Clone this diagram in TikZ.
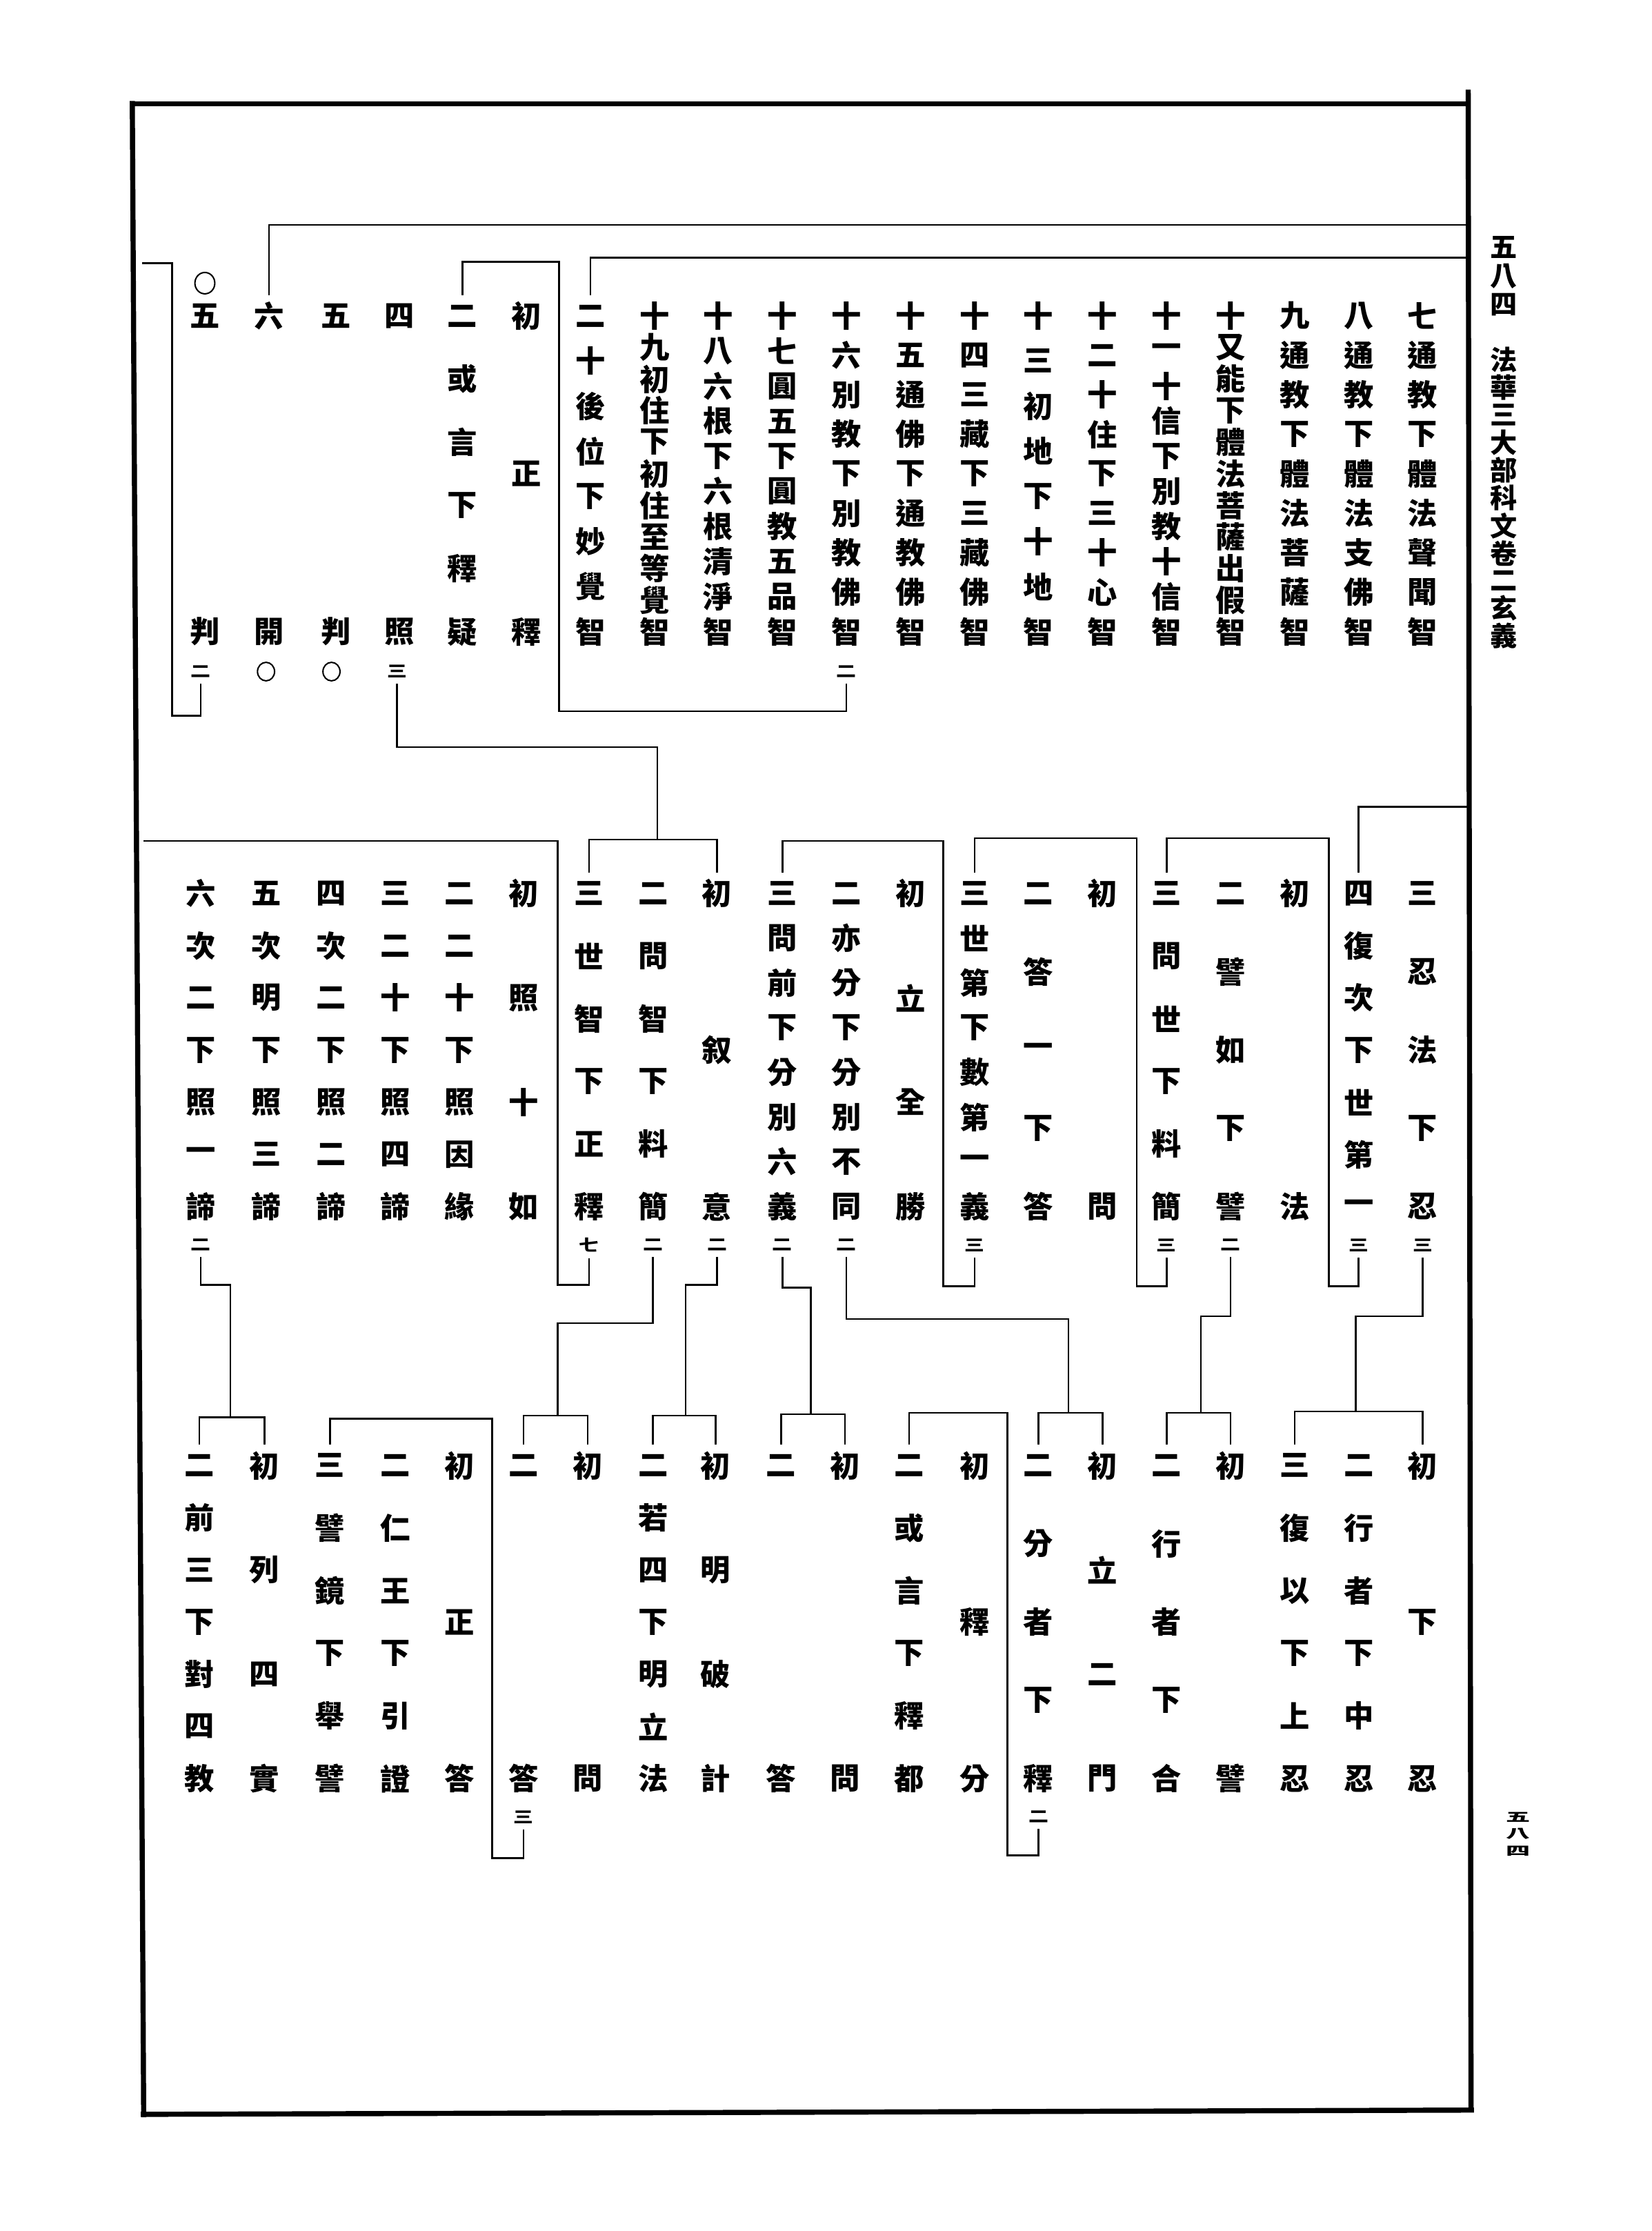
\documentclass[tikz,border=0pt]{standalone}
\usepackage{fontspec}
\usepackage{graphicx}
\newfontfamily\cjk{Noto Sans CJK TC}
\usetikzlibrary{shapes.geometric}
\newlength\cjkcell
\setlength\cjkcell{21pt}
\makeatletter
\def\vc@stop{\vc@stop@}
\newcommand\vc@cell[1]{\hbox to \cjkcell{\hss\vbox to \cjkcell{\vss\hbox{#1}\vss}\hss}}
\newcommand\vcol[2]{\vbox to \dimexpr#1pt+\cjkcell\relax{\offinterlineskip\vc@first#2\vc@stop}}
\def\vc@first#1{\vc@cell{#1}\vc@next}
\def\vc@next#1{\ifx#1\vc@stop\else\vfill\vc@cell{#1}\expandafter\vc@next\fi}
\makeatother
\newcommand\sn[1]{\scalebox{1}[0.8]{#1}}
\begin{document}
\begin{tikzpicture}[x=1pt,y=-1pt,
  col/.style={inner sep=0pt,font=\cjk\bfseries\fontsize{21}{21}\selectfont},
  sm/.style={inner sep=0pt,font=\cjk\bfseries\fontsize{14}{14}\selectfont},
  hdr/.style={inner sep=0pt,font=\cjk\bfseries\fontsize{19}{19}\selectfont},
  br/.style={line width=1.2pt},
  frm/.style={line width=3.6pt},
  circ/.style={draw,ellipse,line width=1pt,inner sep=0pt}]
\useasboundingbox (0,0) rectangle (1161,1568);
\fill[white] (0,0) rectangle (1161,1568);
% frame
\draw[frm] (91,73) -- (1032,73);
\draw[frm] (1032,63) -- (1034,1484);
\draw[frm] (93,71) -- (101,1488);
\draw[frm] (99,1486) -- (1036,1483);
% header
\node[hdr] (pg) at (1057,194) {\setlength\cjkcell{19pt}\vcol{40}{五八四}};
\node[hdr] (ttl) at (1057,350) {\setlength\cjkcell{19pt}\vcol{194}{法華三大部科文卷二玄義}};
\node[inner sep=0pt,font=\cjk\bfseries\fontsize{17}{17}\selectfont] (pgb) at (1067,1289) {\scalebox{1}[0.5]{\setlength\cjkcell{17pt}\vcol{48}{五八四}}};
% ---------- row 1 ----------
\node[col] (r1a) at (1000,333) {\vcol{222}{七通教下體法聲聞智}};
\node[col] (r1b) at (955,333) {\vcol{222}{八通教下體法支佛智}};
\node[col] (r1c) at (910,333) {\vcol{222}{九通教下體法菩薩智}};
\node[col] (r1d) at (865,333) {\vcol{222}{十又能下體法菩薩出假智}};
\node[col] (r1e) at (820,333) {\vcol{222}{十一十信下別教十信智}};
\node[col] (r1f) at (775,333) {\vcol{222}{十二十住下三十心智}};
\node[col] (r1g) at (730,333) {\vcol{222}{十三初地下十地智}};
\node[col] (r1h) at (685,333) {\vcol{222}{十四三藏下三藏佛智}};
\node[col] (r1i) at (640,333) {\vcol{222}{十五通佛下通教佛智}};
\node[col] (r1j) at (595,333) {\vcol{222}{十六別教下別教佛智}};
\node[sm] (r1jn) at (595,472) {\sn{二}};
\node[col] (r1k) at (550,333) {\vcol{222}{十七圓五下圓教五品智}};
\node[col] (r1l) at (505,333) {\vcol{222}{十八六根下六根清淨智}};
\node[col] (r1m) at (460,333) {\vcol{222}{十九初住下初住至等覺智}};
\node[col] (r1n) at (415,333) {\vcol{222}{二十後位下妙覺智}};
\node[col] (r1o) at (370,333) {\vcol{222}{初正釋}};
\node[col] (r1p) at (325,333) {\vcol{222}{二或言下釋疑}};
\node[col] (r1q) at (281,333) {\vcol{222}{四照}};
\node[sm] (r1qn) at (279,472) {\sn{三}};
\node[col] (r1r) at (236,333) {\vcol{222}{五判}};
\node[circ,minimum width=12pt,minimum height=13pt] (r1rn) at (233,472) {};
\node[col] (r1s) at (189,333) {\vcol{222}{六開}};
\node[circ,minimum width=12pt,minimum height=13pt] (r1sn) at (187,472) {};
\node[col] (r1t) at (144,333) {\vcol{222}{五判}};
\node[circ,minimum width=14pt,minimum height=15pt] (r1to) at (144,199) {};
\node[sm] (r1tn) at (141,472) {\sn{二}};
% row 1 brackets
\draw[br] ([yshift=4pt]r1s.north) |- (1033,158);
\draw[br] ([yshift=4pt]r1n.north) |- (1033,181);
\draw[br] ([yshift=-4pt]r1jn.south) |- (393,500) -- (393,184) -| ([yshift=4pt]r1p.north);
\draw[br] (100,185) -- (121,185) -- (121,503) -| ([yshift=-4pt]r1tn.south);
\draw[br] ([yshift=-4pt]r1qn.south) |- (462,525) -- (462,590);
% ---------- row 2 ----------
\node[col] (r2a) at (1000,738) {\vcol{220}{三忍法下忍}};
\node[sm] (r2an) at (1000,875) {\sn{三}};
\node[col] (r2b) at (955,738) {\vcol{220}{四復次下世第一}};
\node[sm] (r2bn) at (955,875) {\sn{三}};
\node[col] (r2c) at (910,738) {\vcol{220}{初法}};
\node[col] (r2d) at (865,738) {\vcol{220}{二譬如下譬}};
\node[sm] (r2dn) at (865,875) {\sn{二}};
\node[col] (r2e) at (820,738) {\vcol{220}{三問世下料簡}};
\node[sm] (r2en) at (820,875) {\sn{三}};
\node[col] (r2f) at (775,738) {\vcol{220}{初問}};
\node[col] (r2g) at (730,738) {\vcol{220}{二答一下答}};
\node[col] (r2h) at (685,738) {\vcol{220}{三世第下數第一義}};
\node[sm] (r2hn) at (685,875) {\sn{三}};
\node[col] (r2i) at (640,738) {\vcol{220}{初立全勝}};
\node[col] (r2j) at (595,738) {\vcol{220}{二亦分下分別不同}};
\node[sm] (r2jn) at (595,875) {\sn{二}};
\node[col] (r2k) at (550,738) {\vcol{220}{三問前下分別六義}};
\node[sm] (r2kn) at (550,875) {\sn{二}};
\node[col] (r2l) at (504,738) {\vcol{220}{初叙意}};
\node[sm] (r2ln) at (504,875) {\sn{二}};
\node[col] (r2m) at (459,738) {\vcol{220}{二問智下料簡}};
\node[sm] (r2mn) at (459,875) {\sn{二}};
\node[col] (r2n) at (414,738) {\vcol{220}{三世智下正釋}};
\node[sm] (r2nn) at (414,875) {\sn{七}};
\node[col] (r2o) at (368,738) {\vcol{220}{初照十如}};
\node[col] (r2p) at (323,738) {\vcol{220}{二二十下照因緣}};
\node[col] (r2q) at (278,738) {\vcol{220}{三二十下照四諦}};
\node[col] (r2r) at (233,738) {\vcol{220}{四次二下照二諦}};
\node[col] (r2s) at (187,738) {\vcol{220}{五次明下照三諦}};
\node[col] (r2t) at (141,738) {\vcol{220}{六次二下照一諦}};
\node[sm] (r2tn) at (141,875) {\sn{二}};
% row 2 brackets
\draw[br] ([yshift=4pt]r2n.north) |- (462,590) -| ([yshift=4pt]r2l.north);
\draw[br] ([yshift=4pt]r2b.north) |- (1033,567);
\draw[br] ([yshift=-4pt]r2bn.south) |- (934,904) -- (934,589) -| ([yshift=4pt]r2e.north);
\draw[br] ([yshift=-4pt]r2en.south) |- (799,904) -- (799,589) -| ([yshift=4pt]r2h.north);
\draw[br] ([yshift=-4pt]r2hn.south) |- (663,904) -- (663,591) -| ([yshift=4pt]r2k.north);
\draw[br] ([yshift=-4pt]r2nn.south) |- (392,903) -- (392,591) -- (101,591);
% ---------- row 3 ----------
\node[col] (r3a) at (1000,1140) {\vcol{220}{初下忍}};
\node[col] (r3b) at (955,1140) {\vcol{220}{二行者下中忍}};
\node[col] (r3c) at (910,1140) {\vcol{220}{三復以下上忍}};
\node[col] (r3d) at (865,1140) {\vcol{220}{初譬}};
\node[col] (r3e) at (820,1140) {\vcol{220}{二行者下合}};
\node[col] (r3f) at (775,1140) {\vcol{220}{初立二門}};
\node[col] (r3g) at (730,1140) {\vcol{220}{二分者下釋}};
\node[sm] (r3gn) at (730,1277) {\sn{二}};
\node[col] (r3h) at (685,1140) {\vcol{220}{初釋分}};
\node[col] (r3i) at (639,1140) {\vcol{220}{二或言下釋都}};
\node[col] (r3j) at (594,1140) {\vcol{220}{初問}};
\node[col] (r3k) at (549,1140) {\vcol{220}{二答}};
\node[col] (r3l) at (503,1140) {\vcol{220}{初明破計}};
\node[col] (r3m) at (459,1140) {\vcol{220}{二若四下明立法}};
\node[col] (r3n) at (413,1140) {\vcol{220}{初問}};
\node[col] (r3o) at (368,1140) {\vcol{220}{二答}};
\node[sm] (r3on) at (368,1277) {\sn{三}};
\node[col] (r3p) at (323,1140) {\vcol{220}{初正答}};
\node[col] (r3q) at (278,1140) {\vcol{220}{二仁王下引證}};
\node[col] (r3r) at (232,1140) {\vcol{220}{三譬鏡下舉譬}};
\node[col] (r3s) at (186,1140) {\vcol{220}{初列四實}};
\node[col] (r3t) at (140,1140) {\vcol{220}{二前三下對四教}};
% row 3 brackets
\draw[br] ([yshift=-4pt]r2an.south) |- (953,925) -- (953,992);
\draw[br] ([yshift=4pt]r3c.north) |- (1000,992) -- ([yshift=4pt]r3a.north);
\draw[br] ([yshift=-4pt]r2dn.south) |- (844,925) -- (844,993);
\draw[br] ([yshift=4pt]r3e.north) |- (865,993) -- ([yshift=4pt]r3d.north);
\draw[br] ([yshift=-4pt]r2jn.south) |- (751,927) -- (751,993);
\draw[br] ([yshift=4pt]r3g.north) |- (775,993) -- ([yshift=4pt]r3f.north);
\draw[br] ([yshift=-4pt]r3gn.south) |- (708,1304) -- (708,993) -| ([yshift=4pt]r3i.north);
\draw[br] ([yshift=-4pt]r2kn.south) |- (570,905) -- (570,994);
\draw[br] ([yshift=4pt]r3k.north) |- (594,994) -- ([yshift=4pt]r3j.north);
\draw[br] ([yshift=-4pt]r2ln.south) |- (482,903) -- (482,995);
\draw[br] ([yshift=4pt]r3m.north) |- (503,995) -- ([yshift=4pt]r3l.north);
\draw[br] ([yshift=-4pt]r2mn.south) |- (392,930) -- (392,995);
\draw[br] ([yshift=4pt]r3o.north) |- (413,995) -- ([yshift=4pt]r3n.north);
\draw[br] ([yshift=-4pt]r3on.south) |- (346,1306) -- (346,997) -| ([yshift=4pt]r3r.north);
\draw[br] ([yshift=-4pt]r2tn.south) |- (162,903) -- (162,996);
\draw[br] ([yshift=4pt]r3t.north) |- (186,996) -- ([yshift=4pt]r3s.north);
\end{tikzpicture}
\end{document}
